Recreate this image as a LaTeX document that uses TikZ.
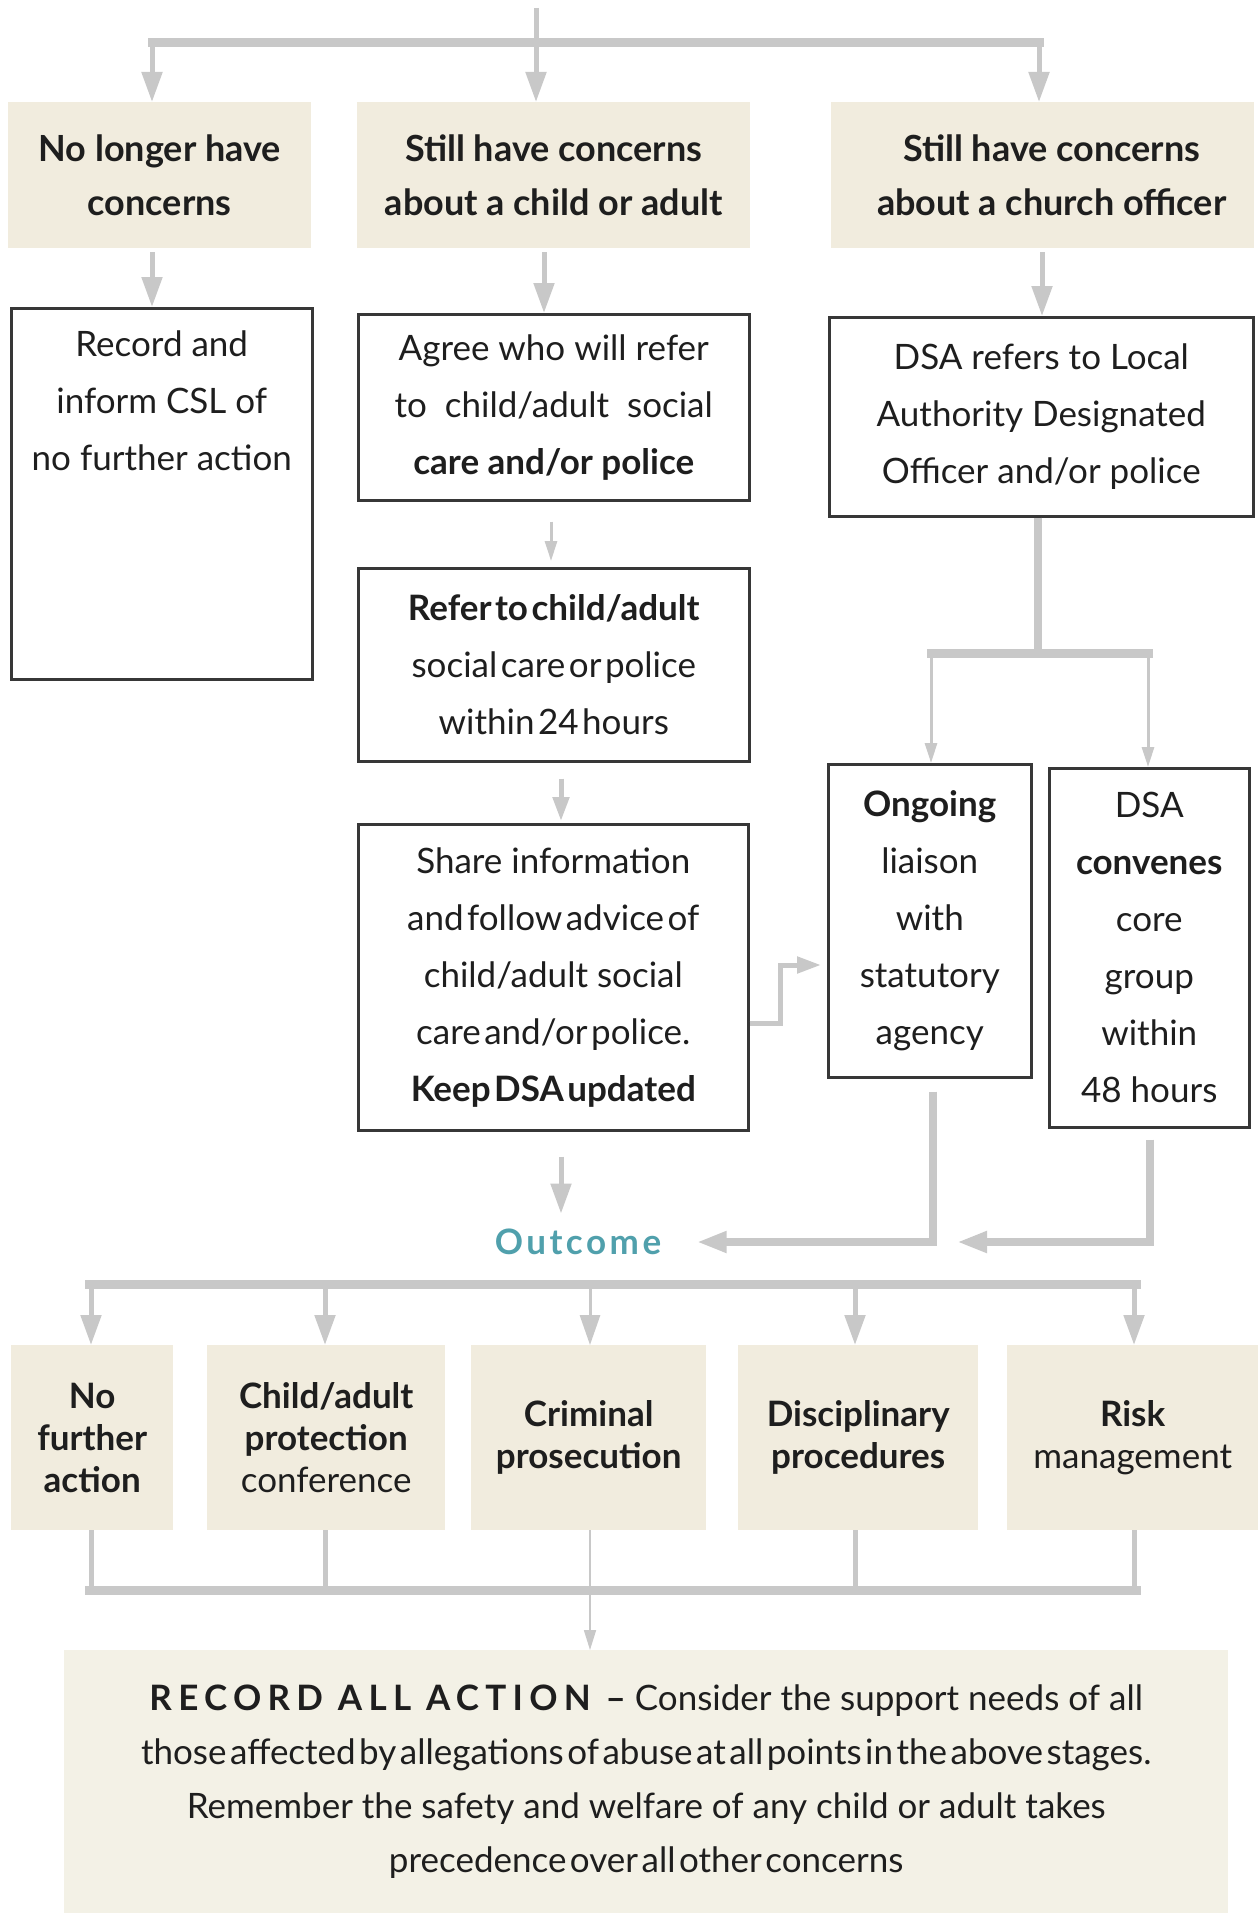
\documentclass[tikz,border=0pt]{standalone}
\usepackage{fontspec}
\setmainfont{Lato}
\newfontfamily\myspaced[LetterSpace=18]{Lato}
\newfontfamily\myspacedb[LetterSpace=10]{Lato}
\usetikzlibrary{arrows.meta}
\definecolor{beigec}{RGB}{241,236,222}
\definecolor{finalc}{RGB}{243,241,230}
\definecolor{cgray}{RGB}{200,200,200}
\definecolor{borderc}{RGB}{55,55,55}
\definecolor{textc}{RGB}{30,30,30}
\definecolor{tealc}{RGB}{80,160,172}
\newcommand\myftop{\fontsize{36}{54}\selectfont\bfseries}
\newcommand\myfmid{\fontsize{35}{57}\selectfont}
\newcommand\myfbot{\fontsize{35}{42}\selectfont}
\newcommand\myffin{\fontsize{35}{54}\selectfont}
\newcommand\mytight[1]{{\spaceskip=0.1em plus 0.02em\relax #1}}
\begin{document}
\begin{tikzpicture}[x=1pt,y=-1pt,
  conn/.style={draw=cgray, line width=5pt},
  thickconn/.style={draw=cgray, line width=8pt},
  thinconn/.style={draw=cgray, line width=3pt},
  hairconn/.style={draw=cgray, line width=1.6pt},
  barline/.style={draw=cgray, line width=9pt, line cap=rect},
  tip/.style={-{Triangle[width=20pt,length=30pt]}},
  midtip/.style={-{Triangle[width=16pt,length=24pt]}},
  smalltip/.style={-{Triangle[width=12pt,length=20pt]}},
  beige/.style={fill=beigec, draw=none, inner sep=0pt, anchor=north west, align=center, text=textc},
  wbox/.style={fill=white, draw=borderc, line width=2.5pt, inner sep=0pt, anchor=north west, align=center, text=textc},
]
\useasboundingbox (0,0) rectangle (1258,1913);
\fill[white] (0,0) rectangle (1258,1913);

% ---------- top row ----------
\node[beige, minimum width=303, minimum height=146, font=\myftop] (tA) at (8,102) {No longer have\\concerns};
\node[beige, minimum width=393, minimum height=146, font=\myftop] (tB) at (357,102) {Still have concerns\\about a child or adult};
\node[beige, minimum width=423, minimum height=146, font=\myftop] (tC) at (831,102) {\hspace*{18pt}Still have concerns\\\hspace*{18pt}about a church officer};

% ---------- second row ----------
\node[wbox, minimum width=301, minimum height=371] (rec) at (10,307) {};
\node[font=\myfmid, align=center, anchor=north, text=textc, inner sep=0pt] (rectext) at ([yshift=-24pt]rec.north) {Record and\\inform CSL of\\no further action};
\node[wbox, minimum width=391, minimum height=186, font=\myfmid] (agree) at (357,313) {Agree who will refer\\to\ \ child/adult\ \ social\\{\bfseries care and/or police}};
\node[wbox, minimum width=424, minimum height=199, font=\myfmid] (dsaref) at (828,316) {DSA refers to Local\\Authority Designated\\Officer and/or police};
\node[wbox, minimum width=391, minimum height=193, font=\myfmid] (refer) at (357,567) {\mytight{\bfseries Refer to child/adult}\\\mytight{social care or police}\\\mytight{within 24 hours}};
\node[wbox, minimum width=390, minimum height=306, font=\myfmid] (share) at (357,823) {Share information\\\mytight{and follow advice of}\\child/adult social\\\mytight{care and/or police.}\\\mytight{\bfseries Keep DSA updated}};
\node[wbox, minimum width=203, minimum height=313, font=\myfmid] (ongo) at (827,763) {{\bfseries Ongoing}\\liaison\\with\\statutory\\agency};
\node[wbox, minimum width=200, minimum height=359, font=\myfmid] (conv) at (1048,767) {DSA\\{\bfseries convenes}\\core\\group\\within\\48 hours};

\node[font=\fontsize{35}{40}\selectfont\myspacedb\bfseries, text=tealc] (outc) at (578,1242) {Outcome};

% ---------- outcome row ----------
\node[beige, minimum width=162, minimum height=185, font=\myfbot\bfseries] (o1) at (11,1345) {No\\further\\action};
\node[beige, minimum width=238, minimum height=185, font=\myfbot] (o2) at (207,1345) {{\bfseries Child/adult}\\{\bfseries protection}\\conference};
\node[beige, minimum width=235, minimum height=185, font=\myfbot\bfseries] (o3) at (471,1345) {Criminal\\prosecution};
\node[beige, minimum width=240, minimum height=185, font=\myfbot\bfseries] (o4) at (738,1345) {Disciplinary\\procedures};
\node[beige, minimum width=251, minimum height=185, font=\myfbot] (o5) at (1007,1345) {{\bfseries Risk}\\management};

\node[beige, fill=finalc, minimum width=1164, minimum height=263, font=\myffin] (final) at (64,1650) {{\myspaced\bfseries RECORD ALL ACTION –} Consider the support needs of all\\\mytight{those affected by allegations of abuse at all points in the above stages.}\\Remember the safety and welfare of any child or adult takes\\\mytight{precedence over all other concerns}};

% ---------- connectors: top ----------
\coordinate (start) at (536,8);
\coordinate (jM) at (536,43);
\coordinate (jL) at (152,43);
\coordinate (jR) at (1039,43);
\draw[conn] (start) -- (jM);
\draw[barline] (jL) -- (jR);
\draw[conn,tip] (jL) -- (jL |- tA.north);
\draw[conn,tip] (jM) -- (jM |- tB.north);
\draw[conn,tip] (jR) -- (jR |- tC.north);

\coordinate (xA) at (152,0);
\coordinate (xB) at (544,0);
\coordinate (xC) at (1042,0);
\draw[conn,tip,shorten <=4pt] (xA |- tA.south) -- (xA |- rec.north);
\draw[conn,tip,shorten <=4pt] (xB |- tB.south) -- (xB |- agree.north);
\draw[conn,tip,shorten <=4pt] (xC |- tC.south) -- (xC |- dsaref.north);

% middle column
\coordinate (xB2) at (551,0);
\coordinate (xB3) at (561,0);
\draw[thinconn,smalltip,shorten <=20pt,shorten >=6pt] (xB2 |- agree.south) -- (xB2 |- refer.north);
\draw[conn,midtip,shorten <=16pt,shorten >=2pt] (xB3 |- refer.south) -- (xB3 |- share.north);

% right column split
\coordinate (sp) at (1038,653);
\coordinate (sL) at (931,653);
\coordinate (sR) at (1148,653);
\draw[thickconn] (sp |- dsaref.south) -- (sp);
\draw[barline] (sL) -- (sR);
\draw[thinconn,smalltip] (sL) -- (sL |- ongo.north);
\draw[thinconn,smalltip] (sR) -- (sR |- conv.north);

% share -> ongoing elbow
\coordinate (e2) at (780,1023);
\coordinate (e3) at (780,965);
\draw[conn,midtip,shorten >=6pt] (share.east |- e2) -- (e2) -- (e3) -- (e3 -| ongo.west);

% to outcome
\coordinate (oc1) at (933,1242);
\coordinate (oc2) at (1150,1242);
\coordinate (t2) at (957,1242);
\draw[thickconn,tip,shorten <=13pt,shorten >=32pt] (oc1 |- ongo.south) -- (oc1) -- (outc.east);
\draw[thickconn,tip,shorten <=11pt] (oc2 |- conv.south) -- (oc2) -- (t2);
\draw[conn,tip,shorten <=25pt,shorten >=12pt] (xB3 |- share.south) -- (xB3 |- outc.north);

% outcome bar
\coordinate (bL) at (89,1284);
\coordinate (bR) at (1136,1284);
\draw[barline] (bL) -- (bR);
\coordinate (x1) at (91,0);
\coordinate (x2) at (325,0);
\coordinate (x3) at (590,0);
\coordinate (x4) at (855,0);
\coordinate (x5) at (1134,0);
\draw[conn,tip] (x1 |- bL) -- (x1 |- o1.north);
\draw[conn,tip] (x2 |- bL) -- (x2 |- o2.north);
\draw[thinconn,tip] (x3 |- bL) -- (x3 |- o3.north);
\draw[conn,tip] (x4 |- bL) -- (x4 |- o4.north);
\draw[conn,tip] (x5 |- bL) -- (x5 |- o5.north);

% bottom collector
\coordinate (cL) at (89,1590);
\coordinate (cR) at (1136,1590);
\draw[conn] (x1 |- o1.south) -- (x1 |- cL);
\draw[conn] (x2 |- o2.south) -- (x2 |- cL);
\draw[conn] (x4 |- o4.south) -- (x4 |- cL);
\draw[conn] (x5 |- o5.south) -- (x5 |- cL);
\draw[barline] (cL) -- (cR);
\draw[hairconn,smalltip] (x3 |- o3.south) -- (x3 |- final.north);
\end{tikzpicture}
\end{document}
